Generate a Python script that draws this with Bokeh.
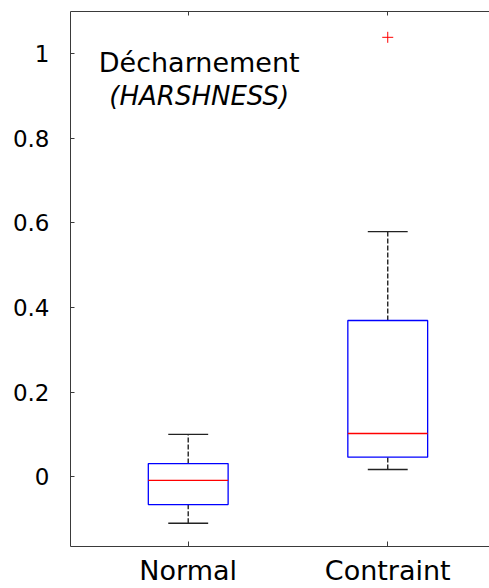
from bokeh.plotting import figure
from bokeh.models import FixedTicker, LinearAxis, Range1d, ColumnDataSource
from bokeh.core.properties import value
from bokeh.embed import file_html
from bokeh.resources import INLINE

# ---- data ----
categories = ["Normal", "Contraint"]
positions = [1, 2]
lower_whisker = [-0.110, 0.017]
q1 = [-0.066, 0.046]
median = [-0.009, 0.102]
q3 = [0.031, 0.369]
upper_whisker = [0.100, 0.579]
outlier_pos = [2]
outlier_val = [1.038]
y_ticks = [0, 0.2, 0.4, 0.6, 0.8, 1]
y_tick_labels = ["0", "0.2", "0.4", "0.6", "0.8", "1"]
title_line1 = "Décharnement"
title_line2 = "(HARSHNESS)"

FONT = "DejaVu Sans"
AXIS_COLOR = "#3a3a3a"
BOX_HALF = 0.2
CAP_HALF = 0.1

p = figure(width=489, height=588, output_backend="svg", toolbar_location=None,
           x_range=Range1d(0.41, 2.51), y_range=Range1d(-0.165, 1.099),
           min_border_left=70, min_border_right=0, min_border_top=11, min_border_bottom=42)
p.outline_line_color = None
p.xgrid.visible = False
p.ygrid.visible = False
p.background_fill_color = "white"
p.border_fill_color = "white"

# left axis
ya = p.yaxis[0]
ya.ticker = FixedTicker(ticks=y_ticks)
ya.major_label_overrides = {t: l for t, l in zip(y_ticks, y_tick_labels)}
ya.major_tick_in = 4
ya.major_tick_out = 0
ya.minor_tick_in = 0
ya.minor_tick_out = 0
ya.axis_line_color = AXIS_COLOR
ya.major_tick_line_color = AXIS_COLOR
ya.major_label_text_font = FONT
ya.major_label_text_font_size = "23px"
ya.major_label_text_color = "black"
ya.major_label_standoff = 21

# bottom axis
xa = p.xaxis[0]
xa.ticker = FixedTicker(ticks=positions)
xa.major_label_overrides = {pos: c for pos, c in zip(positions, categories)}
xa.major_tick_in = 5
xa.major_tick_out = 0
xa.minor_tick_in = 0
xa.minor_tick_out = 0
xa.axis_line_color = AXIS_COLOR
xa.major_tick_line_color = AXIS_COLOR
xa.major_label_text_font = FONT
xa.major_label_text_font_size = "27px"
xa.major_label_text_color = "black"
xa.major_label_standoff = 8

# top axis (ticks only, no labels)
ta = LinearAxis(ticker=FixedTicker(ticks=positions), major_tick_in=4, major_tick_out=0,
                minor_tick_in=0, minor_tick_out=0, axis_line_color=AXIS_COLOR,
                major_tick_line_color=AXIS_COLOR, major_label_text_font_size="0px",
                major_label_overrides={pos: "" for pos in positions},
                major_label_standoff=0)
p.add_layout(ta, "above")

src = ColumnDataSource(dict(x=positions, lw=lower_whisker, q1=q1, med=median, q3=q3, uw=upper_whisker))

# whiskers (dashed)
p.segment(x0="x", y0="q3", x1="x", y1="uw", source=src, line_color="#222222", line_width=1.4, line_dash="5 2")
p.segment(x0="x", y0="lw", x1="x", y1="q1", source=src, line_color="#222222", line_width=1.4, line_dash="5 2")
# caps
p.segment(x0=[x - CAP_HALF for x in positions], y0=upper_whisker,
          x1=[x + CAP_HALF for x in positions], y1=upper_whisker, line_color="#222222", line_width=1.4)
p.segment(x0=[x - CAP_HALF for x in positions], y0=lower_whisker,
          x1=[x + CAP_HALF for x in positions], y1=lower_whisker, line_color="#222222", line_width=1.4)
# boxes
p.quad(left=[x - BOX_HALF for x in positions], right=[x + BOX_HALF for x in positions], bottom=q1, top=q3,
       fill_color=None, line_color="#0000ff", line_width=1.3)
# medians
p.segment(x0=[x - BOX_HALF for x in positions], y0=median, x1=[x + BOX_HALF for x in positions], y1=median,
          line_color="#ff0000", line_width=1.3)
# outliers
p.scatter(x=outlier_pos, y=outlier_val, marker="cross", size=11, line_color="#ff0000", line_width=1)

# text
p.text(x=[1.055], y=[0.979], text=[title_line1], text_font=value(FONT), text_font_size="27px",
       text_align="center", text_baseline="alphabetic", text_color="black")
p.text(x=[1.055], y=[0.899], text=[title_line2], text_font=value(FONT), text_font_size="26px",
       text_font_style="italic", text_align="center", text_baseline="alphabetic", text_color="black")

open("out.html", "w").write(file_html(p, INLINE))
